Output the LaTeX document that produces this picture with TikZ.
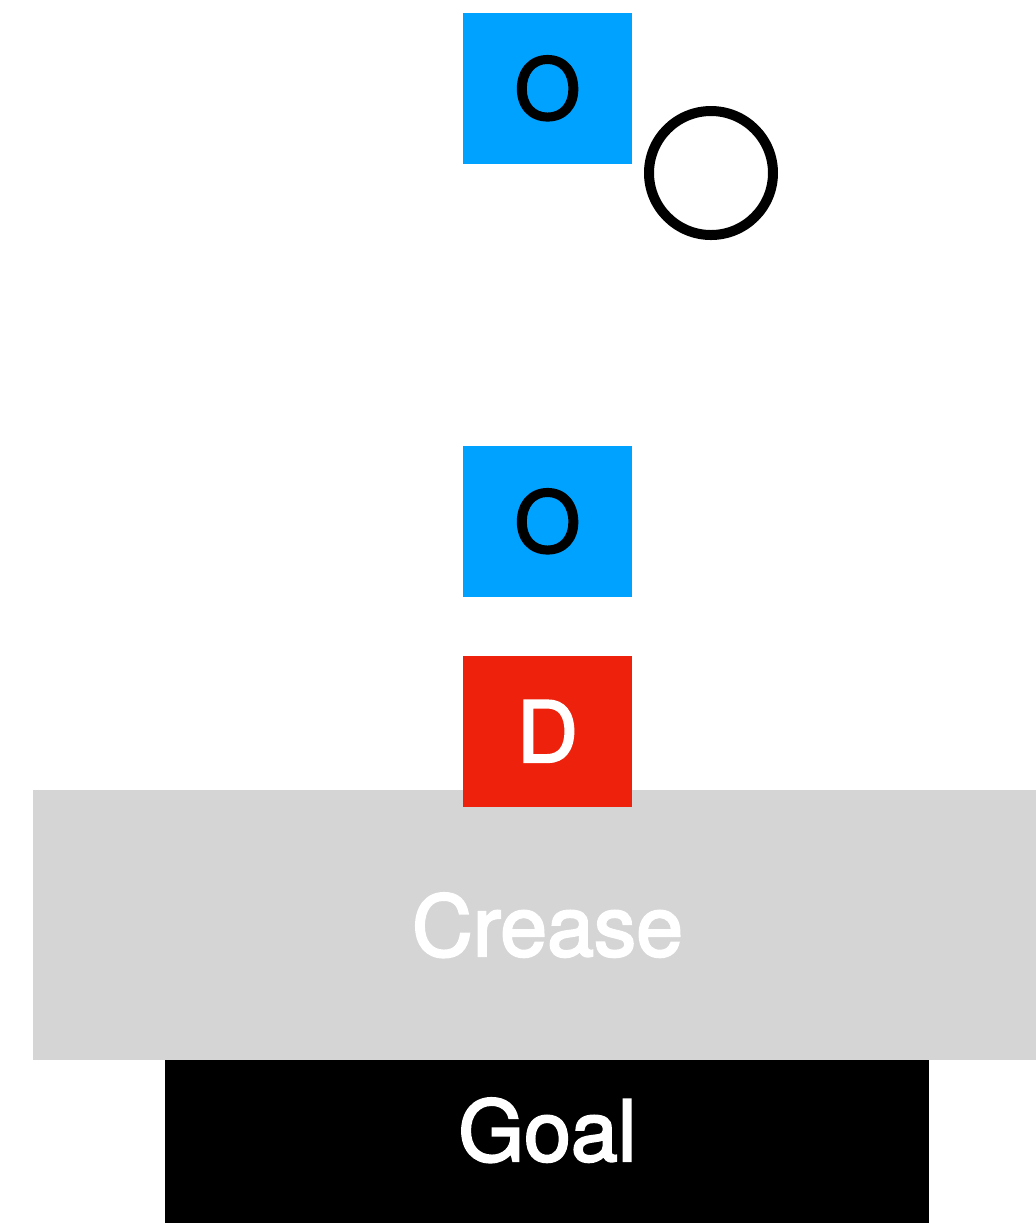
\documentclass[tikz,border=0pt]{standalone}
\usepackage{fontspec}
\setmainfont{TeX Gyre Heros}
\newfontfamily\medfont{TeX Gyre Heros}[FakeBold=2.5]

\definecolor{offense}{HTML}{00A2FF}
\definecolor{defense}{HTML}{EE220C}
\definecolor{creasegray}{HTML}{D5D5D5}

\tikzset{
	player/.style={rectangle, inner sep=0pt, minimum width=1.69cm, minimum height=1.51cm,
		font=\medfont\fontsize{24}{28}\selectfont, text height=0.61cm, text depth=0pt},
	lbl/.style={inner sep=0pt, font=\medfont\fontsize{24}{28}\selectfont, text height=0.61cm, text depth=0pt},
	puck/.style={circle, draw=black, line width=0.1cm, inner sep=0pt, minimum size=1.24cm}
}

\begin{document}
\begin{tikzpicture}
			\useasboundingbox (0,0) rectangle (10.36,-12.23);

			% crease and goal
			\node[rectangle, fill=creasegray, inner sep=0pt, minimum width=10.03cm, minimum height=2.70cm] (crease) at (5.345,-9.25){};
				\node[lbl, text=white] (creaselbl) at (5.475,-9.255){Crease};
			\node[rectangle, fill=black, inner sep=0pt, minimum width=7.64cm, minimum height=1.63cm] (goal) at (5.47,-11.415){};
				\node[lbl, text=white] (goallbl) at (5.475,-11.305){Goal};

			% players
			\node[player, fill=offense] (o1) at (5.475,-0.885){O};
			\node[player, fill=offense] (o2) at (5.475,-5.215){O};
			\node[player, fill=defense, text=white] (d1) at (5.475,-7.315){D};

			% puck
			\node[puck] (pk) at (7.11,-1.73){};

		\end{tikzpicture}
\end{document}
